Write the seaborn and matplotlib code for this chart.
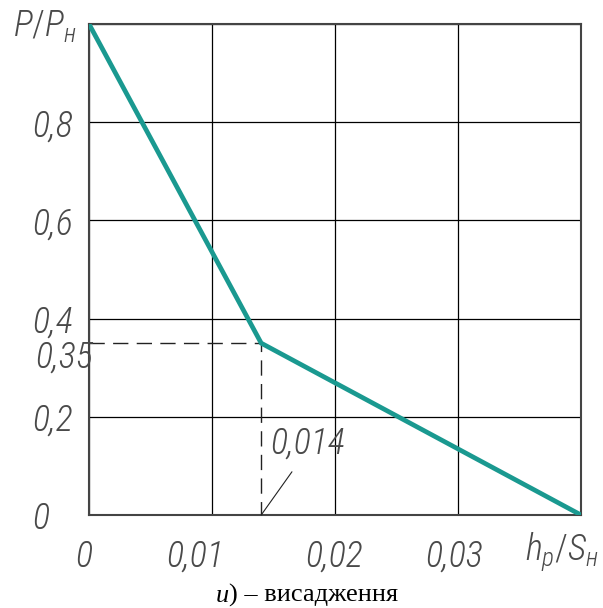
import numpy as np
import pandas as pd
import matplotlib
matplotlib.use('Agg')
import matplotlib.pyplot as plt
import seaborn as sns
from matplotlib.transforms import ScaledTranslation

# ---- data ----
x_vals = [0.0, 0.014, 0.04]
y_vals = [1.0, 0.35, 0.0]
x_ticks = [0.0, 0.01, 0.02, 0.03]
x_tick_labels = ['0', '0,01', '0,02', '0,03']
y_ticks = [0.0, 0.2, 0.4, 0.6, 0.8]
y_tick_labels = ['0', '0,2', '0,4', '0,6', '0,8']
knee_x = 0.014
knee_y = 0.35
knee_x_label = '0,014'
knee_y_label = '0,35'
y_axis_title = r'$P/P_{н}$'
x_axis_title = r'$h_{p}/S_{н}$'
caption_italic = 'и'
caption_rest = ') – висадження'

sns.set_theme(style='white')

fam = 'Roboto Condensed'
plt.rcParams['font.family'] = [fam, 'DejaVu Sans']
plt.rcParams['mathtext.fontset'] = 'custom'
plt.rcParams['mathtext.it'] = fam + ':italic:light'
plt.rcParams['mathtext.rm'] = fam + ':light'

lab_kw = dict(family=[fam, 'DejaVu Sans'], style='italic', weight=200,
              color='#4a4a4a', fontsize=26)

fig = plt.figure(figsize=(6.03, 6.08), dpi=100)
W, H = 603, 608
ax = fig.add_axes([89 / W, 1 - 515 / H, (581 - 89) / W, (515 - 24) / H])

df = pd.DataFrame({'x': x_vals, 'y': y_vals})
sns.lineplot(data=df, x='x', y='y', ax=ax, color='#1a9990', lw=3.4,
             solid_joinstyle='miter', zorder=5)

ax.plot([0, knee_x, knee_x], [knee_y, knee_y, 0], color='#222222', lw=1.0,
        dashes=(11, 6), zorder=4)
ax.annotate('', xy=(knee_x, 0), xytext=(0.0165, 0.088),
            arrowprops=dict(arrowstyle='-', color='#222222', lw=0.8,
                            shrinkA=0, shrinkB=0))

ax.set_xlim(0, 0.04)
ax.set_ylim(0, 1.0)
ax.set_xticks(x_ticks + [0.04])
ax.set_xticklabels(x_tick_labels + [''], **lab_kw)
ax.set_yticks(y_ticks + [1.0])
ax.set_yticklabels(y_tick_labels + [''], **lab_kw)
ax.grid(True, color='black', lw=0.9)
ax.tick_params(axis='both', length=0)
ax.tick_params(axis='y', pad=41)
ax.tick_params(axis='x', pad=17)
for lab in ax.get_yticklabels():
    lab.set_ha('left')
xoffs = [-5, -17, -1, -4, 0]
for lab, dx in zip(ax.get_xticklabels(), xoffs):
    lab.set_transform(lab.get_transform() + ScaledTranslation(dx / 100, 0, fig.dpi_scale_trans))
for s in ax.spines.values():
    s.set_color('#444444')
    s.set_linewidth(1.5)
ax.set_xlabel('')
ax.set_ylabel('')

# extra labels
fig.text(13 / W, 1 - 26 / H, y_axis_title, ha='left', va='center', **lab_kw)
fig.text(35 / W, 1 - 358 / H, knee_y_label, ha='left', va='center', **lab_kw)
ax.text(0.0147, 0.145, knee_x_label, ha='left', va='center', **lab_kw)
fig.text(562 / W, 1 - 552 / H, x_axis_title, ha='center', va='center', **lab_kw)

t1 = fig.text(216 / W, 1 - 602 / H, caption_italic, ha='left', va='baseline',
              family='Liberation Serif', style='italic', fontsize=19, color='black')
fig.canvas.draw()
ax.annotate(caption_rest, xy=(1, 0), xycoords=t1, ha='left', va='bottom',
            family='Liberation Serif', fontsize=19, color='black',
            annotation_clip=False)
fig.savefig('out.png', dpi=100)
